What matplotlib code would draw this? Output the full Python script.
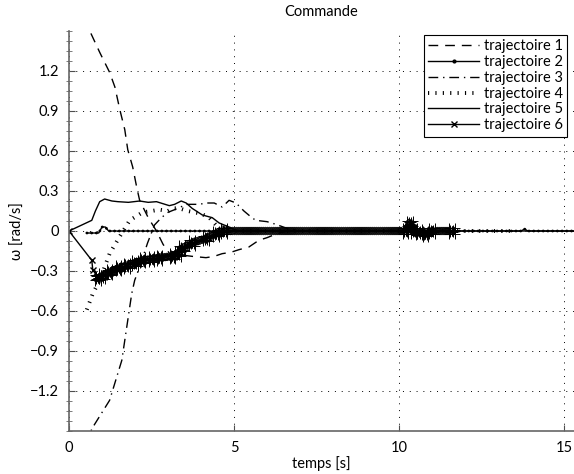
import numpy as np
import matplotlib
matplotlib.use('Agg')
import matplotlib.pyplot as plt
from matplotlib.lines import Line2D
from matplotlib.ticker import AutoMinorLocator, FixedLocator, FuncFormatter
import matplotlib.patheffects as pe

plt.rcParams['font.family'] = ['Lato', 'DejaVu Sans']

title = "Commande"
xlabel = "temps [s]"
ylabel = "ω [rad/s]"
labels = ["trajectoire 1", "trajectoire 2", "trajectoire 3",
          "trajectoire 4", "trajectoire 5", "trajectoire 6"]
xticks = [0, 5, 10, 15]
yticks = [-1.2, -0.9, -0.6, -0.3, 0.0, 0.3, 0.6, 0.9, 1.2]

# trajectoire 1 (dashed)
t1 = [0.5, 0.63, 0.93, 1.23, 1.39, 1.54, 1.69, 1.78, 1.93, 2.05, 2.14, 2.4, 2.65,
      2.85, 3.05, 3.4, 3.73, 4.15, 4.4, 4.64, 4.9, 5.15, 5.45, 5.75, 6.0, 6.3, 6.6]
w1 = [1.6, 1.5, 1.34, 1.19, 1.08, 0.91, 0.76, 0.61, 0.48, 0.33, 0.23, 0.1, 0.0,
      -0.1, -0.17, -0.18, -0.19, -0.2, -0.19, -0.17, -0.16, -0.14, -0.12, -0.07, -0.05, -0.02, 0.0]

# trajectoire 2 (solid with dots)
t2 = [0.54, 0.9, 1.0, 1.1, 1.2, 13.7, 13.8, 13.9, 15.3]
w2 = [-0.015, -0.015, 0.03, 0.03, 0.0, 0.0, 0.015, 0.0, 0.0]

# trajectoire 3 (dash-dot)
t3 = [0.5, 0.7, 1.23, 1.6, 1.78, 1.9, 1.99, 2.14, 2.38, 2.59, 2.8, 3.0, 3.3, 3.55,
      3.95, 4.15, 4.4, 4.64, 4.85, 5.06, 5.3, 5.54, 5.66, 6.0, 6.27, 6.6, 7.0]
w3 = [-1.6, -1.48, -1.27, -0.97, -0.67, -0.47, -0.37, -0.27, -0.09, 0.045, 0.1, 0.14, 0.17, 0.2,
      0.2, 0.21, 0.21, 0.18, 0.23, 0.21, 0.15, 0.1, 0.08, 0.07, 0.05, 0.02, 0.0]

# trajectoire 4 (dotted ticks)
t4 = [0.54, 0.72, 0.93, 1.23, 1.54, 1.84, 2.23, 2.5, 2.74, 3.0, 3.13, 3.34, 3.6,
      4.0, 4.25, 4.45, 4.7, 5.0, 13.5]
w4 = [-0.59, -0.47, -0.37, -0.17, -0.04, 0.08, 0.14, 0.15, 0.16, 0.15, 0.17, 0.17, 0.15,
      0.13, 0.1, 0.045, 0.02, 0.0, 0.0]

# trajectoire 5 (solid)
t5 = [0.0, 0.69, 0.8, 0.93, 1.08, 1.3, 1.48, 1.8, 2.14, 2.4, 2.65, 3.04, 3.2, 3.4,
      3.55, 3.73, 4.04, 4.34, 4.55, 4.85, 5.1, 15.3]
w5 = [0.0, 0.08, 0.15, 0.22, 0.24, 0.225, 0.22, 0.215, 0.225, 0.215, 0.22, 0.19, 0.2, 0.225,
      0.21, 0.17, 0.12, 0.1, 0.06, 0.03, 0.0, 0.0]

# trajectoire 6 (solid with x markers)
t6 = [0.0, 0.69, 0.72, 0.87, 1.0, 1.23, 1.5, 1.75, 2.0, 2.23, 2.5, 2.74, 3.13, 3.3,
      3.43, 3.73, 4.15, 4.46, 4.7, 10.2, 10.33, 10.45, 10.6, 10.8, 11.0, 11.6]
w6 = [0.0, -0.22, -0.29, -0.35, -0.34, -0.31, -0.28, -0.26, -0.24, -0.22, -0.21, -0.2, -0.19, -0.17,
      -0.13, -0.09, -0.055, -0.02, 0.0, 0.0, 0.055, 0.0, -0.01, -0.02, 0.0, 0.0]

fig = plt.figure(figsize=(5.74, 4.74), dpi=100)
ax = fig.add_axes([69 / 574, 43 / 474, 1 - 69 / 574, (431 - 31) / 474])
ax.set_xlim(0, 15.3)
ax.set_ylim(-1.5, 1.5)

lw = 1.0
ax.plot(t1, w1, color='k', lw=lw, dashes=(7, 5))
ax.plot(t2, w2, color='k', lw=lw)
ax.plot(t2, w2, color='k', lw=2.0, linestyle=(0, (0.1, 1.6)), dash_capstyle='round')
ax.plot(t3, w3, color='k', lw=lw, dashes=(7, 3.5, 1, 3.5))
ax.plot(t4, w4, color='k', lw=2.8, linestyle=(0, (0.3, 1.6)), dash_capstyle='butt')
ax.plot(t5, w5, color='k', lw=lw)

# trajectoire 6: sparse start, dense crosses afterwards
ax.plot(t6[:4], w6[:4], color='k', lw=lw, marker='x', ms=5, mew=1)
xfx = [pe.Normal()] + [pe.TickedStroke(spacing=1.4, angle=a, length=2.6, linewidth=0.7)
                       for a in (45, -135, 135, -45)]
ax.plot(t6[3:], w6[3:], color='k', lw=lw, marker='x', ms=5, mew=1, path_effects=xfx)

# axes styling
for s in ('top', 'right'):
    ax.spines[s].set_visible(False)
for s in ('left', 'bottom'):
    ax.spines[s].set_color('0.4')
    ax.spines[s].set_linewidth(1.2)

ax.xaxis.set_major_locator(FixedLocator(xticks))
ax.yaxis.set_major_locator(FixedLocator(yticks))
ax.yaxis.set_minor_locator(AutoMinorLocator(4))


def yfmt(v, pos):
    if abs(v) < 1e-9:
        return "0"
    return ("%.1f" % v).replace("-", "\u2212")


ax.yaxis.set_major_formatter(FuncFormatter(yfmt))
ax.xaxis.set_major_formatter(FuncFormatter(lambda v, p: "%d" % v))
ax.tick_params(axis='both', which='major', direction='in', length=4, width=0.8,
               color='0.3', labelsize=10.5, pad=7)
ax.tick_params(axis='y', which='minor', direction='inout', length=4, width=0.6, color='0.4')
ax.grid(True, which='major', color='k', linestyle=(0, (1, 6)), linewidth=0.7)
ax.set_axisbelow(True)

ax.set_title(title, fontsize=10.5, pad=11)
ax.set_xlabel(xlabel, fontsize=10.5, labelpad=1)
ax.set_ylabel(ylabel, fontsize=10.5, labelpad=4)

handles = [
    Line2D([], [], color='k', lw=lw, dashes=(7, 5)),
    Line2D([], [], color='k', lw=lw, marker='.', ms=4),
    Line2D([], [], color='k', lw=lw, dashes=(7, 3.5, 1, 3.5)),
    Line2D([], [], color='k', lw=2.8, linestyle=(0, (0.3, 1.6)), dash_capstyle='butt'),
    Line2D([], [], color='k', lw=lw),
    Line2D([], [], color='k', lw=lw, marker='x', ms=5, mew=1),
]
leg = ax.legend(handles, labels, loc='upper right', bbox_to_anchor=(567 / 574, 1 - 35 / 474),
                bbox_transform=fig.transFigure, fontsize=10.5, numpoints=1, handlelength=3.5,
                handletextpad=0.3, labelspacing=0.12, borderpad=0.3, borderaxespad=0,
                fancybox=False, framealpha=1, edgecolor='k')
leg.get_frame().set_linewidth(0.8)

fig.savefig('out.png', dpi=100)
